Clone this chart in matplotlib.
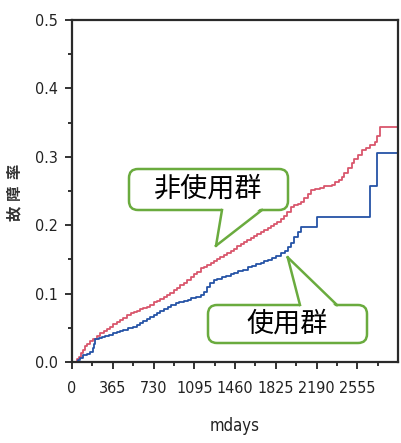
import matplotlib
matplotlib.use("Agg")
import matplotlib.pyplot as plt
from matplotlib.patches import FancyBboxPatch, Polygon
from matplotlib.transforms import IdentityTransform

# Courbes cumulées (jours, taux) - groupe non utilisateur
jours_non = [0, 30, 45, 60, 80, 100, 118, 135, 160, 190, 225, 255, 285, 315, 342,
             370, 400, 430, 460, 495, 525, 555, 585, 610, 640, 670, 703, 735,
             760, 790, 820, 850, 880, 910, 940, 970, 1000, 1030, 1063, 1090,
             1120, 1153, 1180, 1210, 1244, 1270, 1300, 1330, 1360, 1390, 1420,
             1451, 1480, 1510, 1540, 1570, 1600, 1630, 1660, 1690, 1720, 1757,
             1785, 1810, 1840, 1874, 1900, 1930, 1965, 1990, 2020, 2055, 2080,
             2110, 2145, 2180, 2220, 2260, 2300, 2325, 2360, 2388, 2415, 2440,
             2470, 2505, 2530, 2560, 2595, 2630, 2670, 2713, 2735, 2757, 2920]
taux_non = [0, 0, 0.004, 0.008, 0.013, 0.018, 0.023, 0.027, 0.030, 0.034, 0.038,
            0.042, 0.045, 0.048, 0.051, 0.055, 0.058, 0.061, 0.064, 0.068, 0.071,
            0.073, 0.075, 0.077, 0.079, 0.081, 0.084, 0.087, 0.089, 0.092, 0.095,
            0.098, 0.101, 0.105, 0.108, 0.112, 0.116, 0.120, 0.124, 0.128, 0.132,
            0.137, 0.139, 0.142, 0.145, 0.148, 0.151, 0.153, 0.156, 0.159, 0.162,
            0.165, 0.169, 0.172, 0.175, 0.178, 0.181, 0.184, 0.187, 0.190, 0.193,
            0.196, 0.199, 0.202, 0.205, 0.209, 0.214, 0.219, 0.226, 0.229, 0.231,
            0.234, 0.240, 0.246, 0.251, 0.253, 0.255, 0.257, 0.258, 0.259, 0.263,
            0.266, 0.271, 0.277, 0.283, 0.291, 0.297, 0.303, 0.310, 0.313, 0.317,
            0.322, 0.330, 0.343, 0.343]

# groupe utilisateur
jours_use = [0, 30, 50, 70, 100, 130, 160, 185, 200, 210, 240, 270, 300, 330,
             365, 400, 430, 460, 500, 550, 580, 610, 640, 670, 700, 730, 760,
             790, 820, 856, 890, 930, 960, 1000, 1036, 1070, 1110, 1153, 1180,
             1210, 1240, 1271, 1300, 1340, 1380, 1420, 1451, 1490, 1530, 1577,
             1610, 1650, 1690, 1720, 1757, 1790, 1830, 1874, 1905, 1937, 1965,
             1992, 2020, 2055, 2190, 2667, 2735, 2920]
taux_use = [0, 0, 0.003, 0.006, 0.010, 0.011, 0.014, 0.020, 0.027, 0.033, 0.035,
            0.036, 0.038, 0.040, 0.042, 0.044, 0.045, 0.047, 0.049, 0.051, 0.054,
            0.057, 0.060, 0.063, 0.066, 0.069, 0.071, 0.074, 0.077, 0.080, 0.083,
            0.086, 0.088, 0.089, 0.091, 0.093, 0.095, 0.098, 0.103, 0.109, 0.115,
            0.120, 0.122, 0.124, 0.126, 0.128, 0.130, 0.133, 0.135, 0.139, 0.141,
            0.143, 0.145, 0.147, 0.149, 0.152, 0.155, 0.159, 0.163, 0.168, 0.174,
            0.183, 0.190, 0.197, 0.212, 0.257, 0.306, 0.306]

x_ticks = [0, 365, 730, 1095, 1460, 1825, 2190, 2555]
y_ticks = [0.0, 0.1, 0.2, 0.3, 0.4, 0.5]

plt.rcParams['font.family'] = ['DejaVu Sans']
plt.rcParams['font.stretch'] = 'condensed'
W, H = 401, 443
fig = plt.figure(figsize=(W / 100, H / 100), dpi=100)
ax = fig.add_axes([72 / W, 1 - 362 / H, 326 / W, 342 / H])

ax.plot(jours_non, taux_non, drawstyle='steps-post', color='#d9566c', lw=1.3)
ax.plot(jours_use, taux_use, drawstyle='steps-post', color='#2553a6', lw=1.3)

ax.set_xlim(0, 2920)
ax.set_ylim(0, 0.5)
ax.set_xticks(x_ticks)
ax.set_xticks([t + 182.5 for t in x_ticks], minor=True)
ax.set_yticks(y_ticks)
ax.set_yticks([t + 0.05 for t in y_ticks[:-1]], minor=True)
ax.set_yticklabels(['%.1f' % t for t in y_ticks])
ax.tick_params(which='major', length=5, width=1.3, labelsize=11.5, colors='#222')
ax.tick_params(axis='x', which='major', pad=9)
ax.tick_params(axis='y', which='major', pad=5)
ax.tick_params(which='minor', length=3, width=1.3, colors='#222')
for s in ax.spines.values():
    s.set_linewidth(1.6)
    s.set_color('#2a2a2a')

ax.set_xlabel('mdays', fontsize=12, labelpad=15, color='#222')

# libellé vertical, caractères espacés
for i, c in enumerate('故障率'):
    fig.text(14 / W, 1 - (213 - i * 21) / H, c, rotation=90, fontsize=11,
             family=['Noto Sans CJK JP'], fontweight='bold', color='#333',
             ha='center', va='center')

# Bulles (coordonnées en pixels, origine en haut à gauche)
vert = '#6aab3e'
tf = IdentityTransform()


def bulle(x0, y0, x1, y1, base, tip_data, texte):
    tx, ty = ax.transData.transform(tip_data)
    box = FancyBboxPatch((x0, H - y1), x1 - x0, y1 - y0,
                         boxstyle='round,pad=0,rounding_size=9',
                         fc='white', ec=vert, lw=1.8, transform=tf, zorder=5)
    fig.add_artist(box)
    # côté de la bulle d'où part la pointe
    dessous = ty < H - y1
    by = H - y1 if dessous else H - y0
    inner = by + (3 if dessous else -3)
    fig.add_artist(Polygon([(base[0], inner), (tx, ty), (base[1], inner)],
                           closed=True, fc='white', ec='none', transform=tf,
                           zorder=6))
    for bx in base:
        fig.add_artist(plt.Line2D([bx, tx], [by, ty], color=vert, lw=1.8,
                                  transform=tf, zorder=7))
    fig.text((x0 + x1) / 2 / W, 1 - (y0 + y1) / 2 / H, texte, fontsize=19.5,
             family=['Noto Sans CJK JP'], ha='center', va='center', zorder=8)


bulle(129, 169, 288, 210, (222, 262), (1290, 0.170), '非使用群')
bulle(208, 305, 367, 343, (300, 337), (1932, 0.153), '使用群')

fig.savefig('out.png', dpi=100)
